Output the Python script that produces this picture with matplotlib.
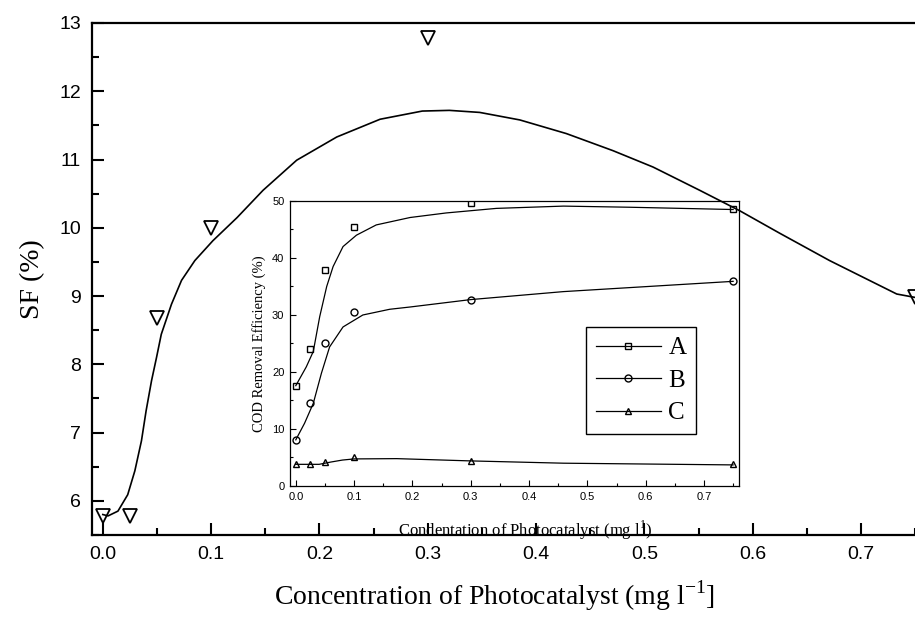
import matplotlib
matplotlib.use("Agg")
import matplotlib.pyplot as plt
from matplotlib.ticker import MultipleLocator

# main plot: SF vs concentration
conc = [0.0, 0.025, 0.05, 0.1, 0.3, 0.75]
sf = [5.78, 5.78, 8.68, 10.0, 12.78, 8.98]

# fitted curve
sf_fit_x = [0.0, 0.0049, 0.014, 0.023, 0.0296, 0.0357, 0.040, 0.045, 0.0496, 0.054,
            0.0634, 0.0727, 0.085, 0.1016, 0.124, 0.148, 0.179, 0.216, 0.256, 0.295,
            0.32, 0.348, 0.385, 0.428, 0.471, 0.508, 0.551, 0.588, 0.625, 0.671,
            0.733, 0.75]
sf_fit_y = [5.80, 5.78, 5.85, 6.09, 6.44, 6.88, 7.32, 7.76, 8.10, 8.44,
            8.88, 9.23, 9.52, 9.81, 10.15, 10.55, 10.99, 11.33, 11.59, 11.71,
            11.72, 11.69, 11.58, 11.38, 11.13, 10.89, 10.55, 10.25, 9.92, 9.52,
            9.03, 8.98]

# inset: COD removal efficiency
cod_a = [17.6, 24.0, 37.9, 45.4, 49.7, 48.6]
cod_b = [8.0, 14.5, 25.1, 30.5, 32.7, 35.9]
cod_c = [3.9, 3.9, 4.2, 5.0, 4.4, 3.9]

fit_a_x = [0.0, 0.018, 0.030, 0.041, 0.053, 0.064, 0.081, 0.104, 0.138, 0.196,
           0.258, 0.344, 0.459, 0.573, 0.75]
fit_a_y = [17.6, 20.9, 23.6, 29.7, 35.0, 38.5, 42.0, 44.0, 45.8, 47.1,
           47.9, 48.7, 49.1, 48.9, 48.5]
fit_b_x = [0.0, 0.015, 0.030, 0.044, 0.058, 0.081, 0.115, 0.161, 0.196, 0.3, 0.459, 0.75]
fit_b_y = [8.1, 11.0, 14.5, 19.8, 24.4, 27.9, 30.0, 31.0, 31.4, 32.7, 34.1, 35.9]
fit_c_x = [0.0, 0.04, 0.06, 0.08, 0.1, 0.173, 0.3, 0.459, 0.75]
fit_c_y = [3.8, 3.8, 4.2, 4.55, 4.75, 4.8, 4.4, 4.0, 3.7]

serif = ["Liberation Serif", "DejaVu Serif"]
sans = ["Liberation Sans", "DejaVu Sans"]

fig = plt.figure(figsize=(9.15, 6.18), dpi=100)
ax = fig.add_axes([0.1005, 0.1343, 0.9115, 0.8285])

ax.plot(sf_fit_x, sf_fit_y, color="black", lw=1.2)
ax.plot(conc, sf, linestyle="none", marker="v", markersize=10,
        markerfacecolor="none", markeredgecolor="black", markeredgewidth=1.3)

ax.set_xlim(-0.01, 0.76)
ax.set_ylim(5.5, 13)
ax.xaxis.set_major_locator(MultipleLocator(0.1))
ax.xaxis.set_minor_locator(MultipleLocator(0.05))
ax.yaxis.set_major_locator(MultipleLocator(1))
ax.yaxis.set_minor_locator(MultipleLocator(0.5))
ax.set_xticks([0.0, 0.1, 0.2, 0.3, 0.4, 0.5, 0.6, 0.7])
ax.set_xticklabels(["0.0", "0.1", "0.2", "0.3", "0.4", "0.5", "0.6", "0.7"])
ax.tick_params(which="both", direction="in", width=1.5, labelsize=14, pad=8)
ax.tick_params(which="major", length=8.5)
ax.tick_params(which="minor", length=5)
for lab in ax.get_xticklabels() + ax.get_yticklabels():
    lab.set_family(sans)
for sp in ax.spines.values():
    sp.set_linewidth(1.6)

ax.set_ylabel("SF (%)", fontsize=20, family=serif, labelpad=10)
ax.set_xlabel(r"Concentration of Photocatalyst (mg l$^{\mathregular{-1}}$]",
              fontsize=20, family=serif, labelpad=8)
ax.xaxis.set_label_coords((494 - 92) / 834, -0.085)

# inset
ins = fig.add_axes([0.3169, 0.2136, 0.4907, 0.4612])
ins.patch.set_alpha(0)
mk = dict(markerfacecolor="none", markeredgecolor="black", markersize=5, markeredgewidth=1)
ins.plot(fit_a_x, fit_a_y, color="black", lw=0.9)
ins.plot(fit_b_x, fit_b_y, color="black", lw=0.9)
ins.plot(fit_c_x, fit_c_y, color="black", lw=0.9)
ins.plot(conc, cod_a, linestyle="none", marker="s", **mk)
ins.plot(conc, cod_b, linestyle="none", marker="o", **mk)
ins.plot(conc, cod_c, linestyle="none", marker="^", **mk)

# legend entries
ins.plot([], [], color="black", lw=0.9, marker="s", label="A", **mk)
ins.plot([], [], color="black", lw=0.9, marker="o", label="B", **mk)
ins.plot([], [], color="black", lw=0.9, marker="^", label="C", **mk)
leg = ins.legend(loc="upper left", bbox_to_anchor=(0.659, 0.558), fancybox=False,
                 edgecolor="black", framealpha=1, handlelength=2.6,
                 prop={"family": serif, "size": 18}, borderpad=0.4,
                 labelspacing=0.4, handletextpad=0.3, borderaxespad=0)
leg.get_frame().set_linewidth(1.0)

ins.set_xlim(-0.01, 0.76)
ins.set_ylim(0, 50)
ins.xaxis.set_major_locator(MultipleLocator(0.1))
ins.xaxis.set_minor_locator(MultipleLocator(0.05))
ins.yaxis.set_major_locator(MultipleLocator(10))
ins.yaxis.set_minor_locator(MultipleLocator(5))
ins.set_xticks([0.0, 0.1, 0.2, 0.3, 0.4, 0.5, 0.6, 0.7])
ins.set_xticklabels(["0.0", "0.1", "0.2", "0.3", "0.4", "0.5", "0.6", "0.7"])
ins.tick_params(which="both", direction="in", width=0.8, labelsize=8, pad=4)
ins.tick_params(which="major", length=4)
ins.tick_params(which="minor", length=2.5)
for lab in ins.get_xticklabels() + ins.get_yticklabels():
    lab.set_family(sans)
for sp in ins.spines.values():
    sp.set_linewidth(0.9)
ins.set_ylabel("COD Removal Efficiency (%)", fontsize=10.5, family=serif, labelpad=4)
fig.text(525 / 915, 1 - 530 / 618, r"Condentation of Photocatalyst (mg l$^{\mathregular{1}}$)",
         fontsize=12, family=serif, ha="center", va="center")

fig.savefig("out.png", dpi=100)
